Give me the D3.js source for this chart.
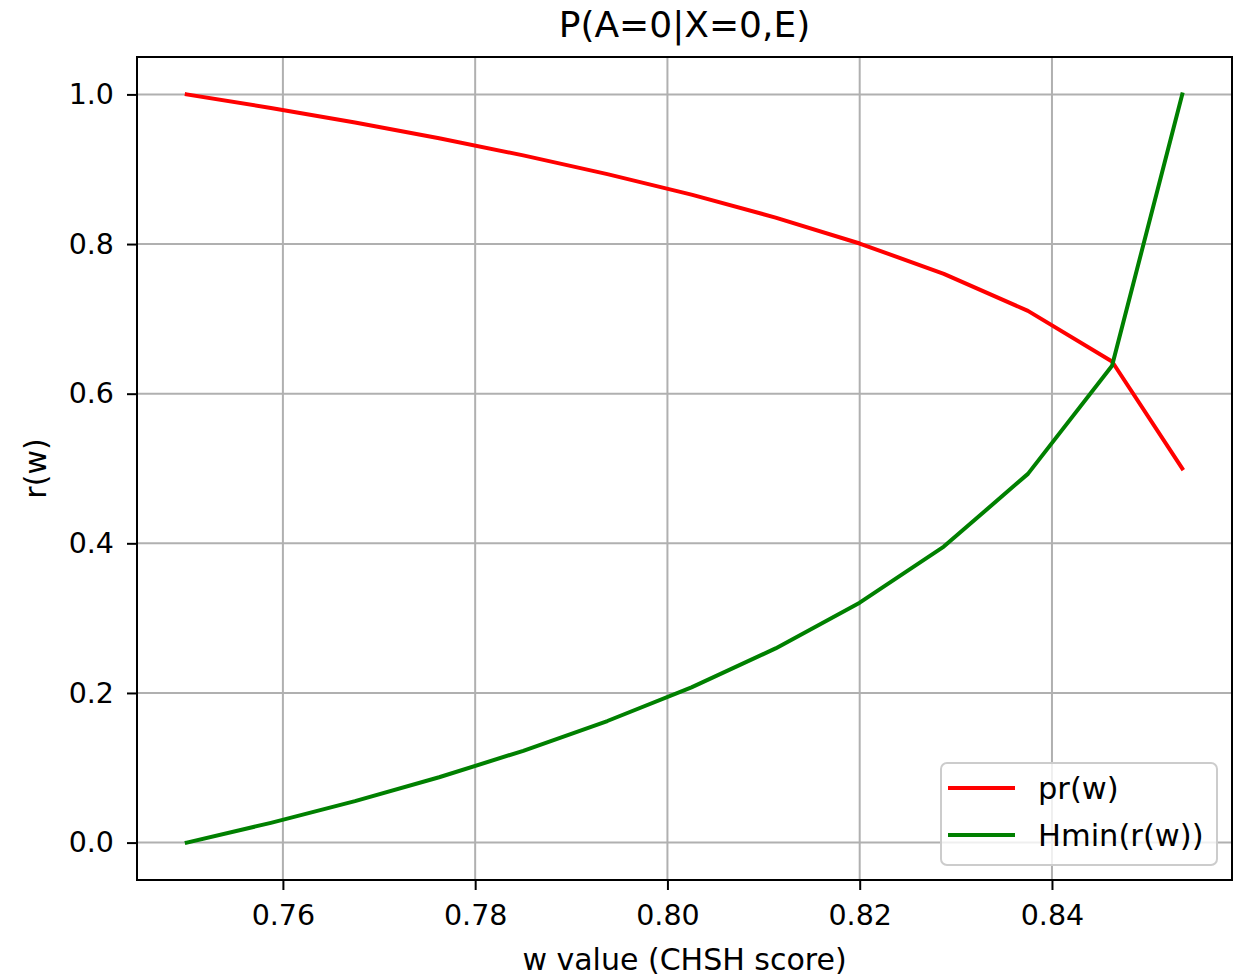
<!DOCTYPE html>
<html>
<head>
<meta charset="utf-8">
<script src="https://cdn.jsdelivr.net/npm/d3@7"></script>
<style>
  body { margin: 0; background: #fff; }
  text { font-family: "DejaVu Sans", sans-serif; fill: #000; }
</style>
</head>
<body>
<div id="chart"></div>
<script>
// w values (CHSH score) and the two curves
const wValues = [0.75, 0.75875, 0.7675, 0.77625, 0.785, 0.79375, 0.8025,
                 0.81125, 0.82, 0.82875, 0.8375, 0.84625, 0.85355];
const prValues = [1.0, 0.9819, 0.9624, 0.9413, 0.9185, 0.8935, 0.8660,
                  0.8354, 0.8007, 0.7602, 0.7107, 0.6430, 0.5];
const hminValues = [0.0, 0.0264, 0.0554, 0.0873, 0.1227, 0.1625, 0.2075,
                    0.2595, 0.3207, 0.3956, 0.4928, 0.6372, 1.0];
const xTicks = [0.76, 0.78, 0.80, 0.82, 0.84];
const yTicks = [0.0, 0.2, 0.4, 0.6, 0.8, 1.0];
const seriesNames = ["pr(w)", "Hmin(r(w))"];
const seriesColors = ["#ff0000", "#008000"];

const W = 1243, H = 977;
const margin = {top: 57, right: 11, bottom: 97, left: 137};
const width = W - margin.left - margin.right;
const height = H - margin.top - margin.bottom;

const svg = d3.select("#chart").append("svg")
    .attr("width", W)
    .attr("height", H);

const g = svg.append("g")
    .attr("transform", `translate(${margin.left},${margin.top})`);

// matplotlib-style 5% padding on both axes
const xMin = d3.min(wValues), xMax = d3.max(wValues);
const xPad = (xMax - xMin) * 0.05;
const x = d3.scaleLinear().domain([xMin - xPad, xMax + xPad]).range([0, width]);
const y = d3.scaleLinear().domain([-0.05, 1.05]).range([height, 0]);

// grid
g.append("g").selectAll("line").data(xTicks).enter().append("line")
    .attr("x1", d => x(d)).attr("x2", d => x(d))
    .attr("y1", 0).attr("y2", height)
    .attr("stroke", "#b0b0b0").attr("stroke-width", 2);
g.append("g").selectAll("line").data(yTicks).enter().append("line")
    .attr("x1", 0).attr("x2", width)
    .attr("y1", d => y(d)).attr("y2", d => y(d))
    .attr("stroke", "#b0b0b0").attr("stroke-width", 2);

// data lines
const series = [prValues, hminValues];
const line = d3.line()
    .x((d, i) => x(wValues[i]))
    .y(d => y(d));
series.forEach((vals, k) => {
  g.append("path")
      .datum(vals)
      .attr("d", line)
      .attr("fill", "none")
      .attr("stroke", seriesColors[k])
      .attr("stroke-width", 4)
      .attr("stroke-linejoin", "round")
      .attr("stroke-linecap", "square");
});

// axes
const xAxis = d3.axisBottom(x).tickValues(xTicks)
    .tickFormat(d3.format(".2f")).tickSizeInner(10).tickSizeOuter(0).tickPadding(15);
const yAxis = d3.axisLeft(y).tickValues(yTicks)
    .tickFormat(d3.format(".1f")).tickSizeInner(10).tickSizeOuter(0).tickPadding(13);

const gx = g.append("g").attr("transform", `translate(0,${height})`).call(xAxis);
const gy = g.append("g").call(yAxis);
[gx, gy].forEach(a => {
  a.select(".domain").remove();
  a.selectAll(".tick line").attr("stroke", "#000").attr("stroke-width", 2);
  a.selectAll(".tick text").attr("font-size", 28.5).attr("fill", "#000")
      .style("font-family", "DejaVu Sans");
});

// frame
g.append("rect")
    .attr("width", width).attr("height", height)
    .attr("fill", "none").attr("stroke", "#000").attr("stroke-width", 2);

// title and labels
svg.append("text")
    .attr("x", margin.left + width / 2).attr("y", 37)
    .attr("text-anchor", "middle").attr("font-size", 36)
    .text("P(A=0|X=0,E)");

svg.append("text")
    .attr("x", margin.left + width / 2).attr("y", 970)
    .attr("text-anchor", "middle").attr("font-size", 30)
    .text("w value (CHSH score)");

svg.append("text")
    .attr("transform", `translate(46,${margin.top + height / 2}) rotate(-90)`)
    .attr("text-anchor", "middle").attr("font-size", 30)
    .text("r(w)");

// legend
const lg = g.append("g").attr("transform", `translate(${941 - margin.left},${763 - margin.top})`);
lg.append("rect")
    .attr("width", 276).attr("height", 102).attr("rx", 6)
    .attr("fill", "#fff").attr("fill-opacity", 0.8)
    .attr("stroke", "#cccccc").attr("stroke-width", 2);
seriesNames.forEach((name, k) => {
  const yy = 25 + k * 47;
  lg.append("line")
      .attr("x1", 7).attr("x2", 74).attr("y1", yy).attr("y2", yy)
      .attr("stroke", seriesColors[k]).attr("stroke-width", 4);
  lg.append("text")
      .attr("x", 97).attr("y", yy + 11)
      .attr("font-size", 30.5)
      .text(name);
});
</script>
</body>
</html>
